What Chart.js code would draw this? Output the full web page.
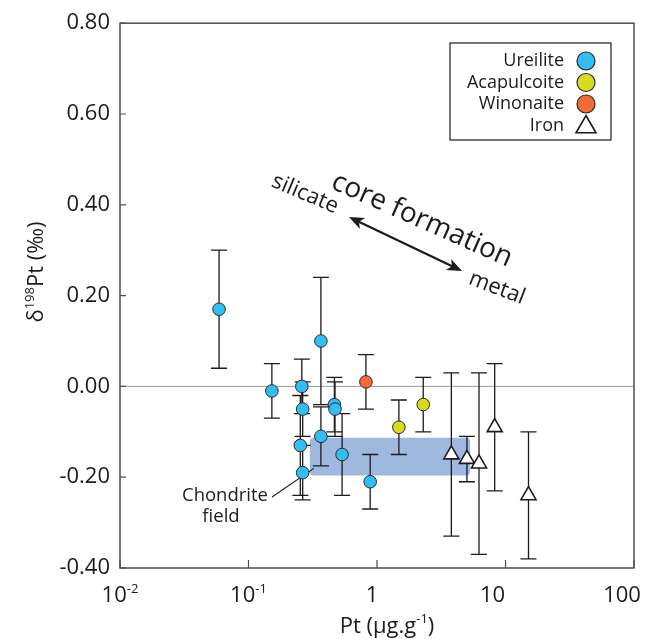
<!DOCTYPE html>
<html><head><meta charset="utf-8">
<script src="https://cdn.jsdelivr.net/npm/chart.js@4/dist/chart.umd.min.js"></script>
<style>html,body{margin:0;padding:0;background:#fff;}canvas{display:block;}</style>
</head><body>
<canvas id="c" width="646" height="639"></canvas>
<script>
// ---- data ----
const ureiliteX   = [0.059, 0.152, 0.26, 0.264, 0.253, 0.264, 0.366, 0.366, 0.466, 0.471, 0.535, 0.885];
const ureiliteY   = [0.17, -0.01, 0.00, -0.05, -0.13, -0.19, 0.10, -0.11, -0.04, -0.05, -0.15, -0.21];
const ureiliteErr = [0.13, 0.06, 0.06, 0.06, 0.11, 0.06, 0.14, 0.065, 0.06, 0.06, 0.09, 0.06];
const acapulcoiteX   = [1.48, 2.29];
const acapulcoiteY   = [-0.09, -0.04];
const acapulcoiteErr = [0.06, 0.06];
const winonaiteX   = [0.82];
const winonaiteY   = [0.01];
const winonaiteErr = [0.06];
const ironX   = [3.79, 5.01, 6.22, 8.24, 15.1];
const ironY   = [-0.15, -0.16, -0.17, -0.09, -0.24];
const ironErr = [0.18, 0.05, 0.20, 0.14, 0.14];
const chondriteFieldX = [0.30, 5.3];
const chondriteFieldY = [-0.113, -0.196];
const xTickValues = [0.01, 0.1, 1, 10, 100];
const xTickBase   = ['10', '10', '1', '10', '100'];
const xTickExp    = ['-2', '-1', '', '', ''];
const legendLabels = ['Ureilite', 'Acapulcoite', 'Winonaite', 'Iron'];

const FONT = "'Open Sans', 'Noto Sans', sans-serif";
const INK = '#1e1a1b';
const colUre = '#34bdf0', colAca = '#d8dc1e', colWin = '#f26a35';

function pts(xs, ys){ return xs.map((x,i)=>({x:x, y:ys[i]})); }

const framePlugin = {
  id: 'frame',
  beforeDatasetsDraw(chart){
    const {ctx, chartArea:a, scales:{x, y}} = chart;
    ctx.save();
    // zero line
    const y0 = y.getPixelForValue(0);
    ctx.strokeStyle = '#9a9a9a'; ctx.lineWidth = 1;
    ctx.beginPath(); ctx.moveTo(a.left, y0); ctx.lineTo(a.right, y0); ctx.stroke();
    // chondrite field
    const fx1 = x.getPixelForValue(chondriteFieldX[0]), fx2 = x.getPixelForValue(chondriteFieldX[1]);
    const fy1 = y.getPixelForValue(chondriteFieldY[0]), fy2 = y.getPixelForValue(chondriteFieldY[1]);
    ctx.fillStyle = '#9fb8de';
    ctx.beginPath(); ctx.roundRect(fx1, fy1, fx2-fx1, fy2-fy1, 4); ctx.fill();
    // leader line + label
    ctx.strokeStyle = INK; ctx.lineWidth = 1.1;
    ctx.beginPath(); ctx.moveTo(272, 497); ctx.lineTo(fx1+4, fy2-7); ctx.stroke();
    ctx.fillStyle = INK; ctx.font = '18.5px ' + FONT; ctx.textBaseline = 'middle';
    ctx.textAlign = 'right'; ctx.fillText('Chondrite', 268, 496);
    ctx.textAlign = 'center'; ctx.fillText('field', 221, 517);
    // error bars
    ctx.strokeStyle = INK; ctx.lineWidth = 1.3;
    chart.data.datasets.forEach(ds => {
      if (!ds.err) return;
      ds.data.forEach((p, i) => {
        const px = x.getPixelForValue(p.x);
        const pt = y.getPixelForValue(p.y + ds.err[i]);
        const pb = y.getPixelForValue(p.y - ds.err[i]);
        ctx.beginPath();
        ctx.moveTo(px, pt); ctx.lineTo(px, pb);
        ctx.moveTo(px-8, pt); ctx.lineTo(px+8, pt);
        ctx.moveTo(px-8, pb); ctx.lineTo(px+8, pb);
        ctx.stroke();
      });
    });
    // frame
    ctx.strokeStyle = '#4d4d4d'; ctx.lineWidth = 1.5;
    ctx.strokeRect(a.left, a.top, a.right-a.left, a.bottom-a.top);
    // inward ticks
    ctx.lineWidth = 1.2;
    ctx.beginPath();
    y.ticks.forEach(t => {
      const py = y.getPixelForValue(t.value);
      ctx.moveTo(a.left, py); ctx.lineTo(a.left+6, py);
    });
    xTickValues.forEach(v => {
      const px = x.getPixelForValue(v);
      ctx.moveTo(px, a.bottom); ctx.lineTo(px, a.bottom-8);
    });
    ctx.stroke();
    ctx.restore();
  },
  afterDraw(chart){
    const {ctx, chartArea:a, scales:{x, y}} = chart;
    ctx.save();
    ctx.fillStyle = INK;
    // x tick labels with superscripts
    const shift = [0, 0, -5, -13, -12];
    xTickValues.forEach((v, i) => {
      const px = x.getPixelForValue(v) + shift[i];
      ctx.font = '22px ' + FONT;
      const wb = ctx.measureText(xTickBase[i]).width;
      ctx.font = '13px ' + FONT;
      const we = xTickExp[i] ? ctx.measureText(xTickExp[i]).width : 0;
      const x0 = px - (wb + we)/2;
      ctx.textAlign = 'left'; ctx.textBaseline = 'alphabetic';
      ctx.font = '22px ' + FONT; ctx.fillText(xTickBase[i], x0, 602);
      if (xTickExp[i]) { ctx.font = '13px ' + FONT; ctx.fillText(xTickExp[i], x0 + wb, 593); }
    });
    // x title
    {
      const p1 = 'Pt (µg.g', sup = '-1', p2 = ')';
      ctx.font = '22px ' + FONT; const w1 = ctx.measureText(p1).width, w3 = ctx.measureText(p2).width;
      ctx.font = '13px ' + FONT; const w2 = ctx.measureText(sup).width;
      const x0 = 387 - (w1+w2+w3)/2;
      ctx.font = '22px ' + FONT; ctx.fillText(p1, x0, 633); ctx.fillText(p2, x0+w1+w2, 633);
      ctx.font = '13px ' + FONT; ctx.fillText(sup, x0+w1, 623);
    }
    // y title
    {
      ctx.save(); ctx.translate(43, 272); ctx.rotate(-Math.PI/2);
      const p1 = 'δ', sup = '198', p2 = 'Pt (‰)';
      ctx.font = '22px ' + FONT; const w1 = ctx.measureText(p1).width, w3 = ctx.measureText(p2).width;
      ctx.font = '13px ' + FONT; const w2 = ctx.measureText(sup).width;
      const x0 = -(w1+w2+w3)/2;
      ctx.font = '22px ' + FONT; ctx.fillText(p1, x0, 0); ctx.fillText(p2, x0+w1+w2, 0);
      ctx.font = '13px ' + FONT; ctx.fillText(sup, x0+w1, -9);
      ctx.restore();
    }
    // legend
    ctx.strokeStyle = INK; ctx.lineWidth = 1.2;
    ctx.strokeRect(450, 43, 161, 97);
    const rows = [61, 82.5, 104, 126];
    const cols = [colUre, colAca, colWin, null];
    ctx.font = '18px ' + FONT; ctx.textAlign = 'right'; ctx.textBaseline = 'middle';
    legendLabels.forEach((lab, i) => {
      ctx.fillStyle = INK; ctx.fillText(lab, 564, rows[i]);
      if (cols[i]) {
        ctx.beginPath(); ctx.arc(586, rows[i], 9, 0, Math.PI*2);
        ctx.fillStyle = cols[i]; ctx.fill(); ctx.lineWidth = 1.2; ctx.strokeStyle = '#2a2a2a'; ctx.stroke();
      } else {
        const r = 11.5, cy = rows[i] + 1;
        ctx.beginPath();
        ctx.moveTo(586, cy - r); ctx.lineTo(586 + r*0.866, cy + r*0.5); ctx.lineTo(586 - r*0.866, cy + r*0.5); ctx.closePath();
        ctx.fillStyle = '#fff'; ctx.fill(); ctx.lineWidth = 1.6; ctx.strokeStyle = INK; ctx.stroke();
      }
    });
    // core formation annotation
    ctx.fillStyle = INK; ctx.textAlign = 'center'; ctx.textBaseline = 'middle';
    const rotText = (t, cx, cy, ang, size) => {
      ctx.save(); ctx.translate(cx, cy); ctx.rotate(ang*Math.PI/180);
      ctx.font = size + 'px ' + FONT; ctx.fillText(t, 0, 0); ctx.restore();
    };
    rotText('core formation', 422, 220, 24, 28);
    rotText('silicate', 305, 194, 23, 22);
    rotText('metal', 497, 288, 21, 22);
    // double arrow
    const ax1 = 349, ay1 = 217, ax2 = 462, ay2 = 271;
    const ang = Math.atan2(ay2-ay1, ax2-ax1);
    ctx.strokeStyle = INK; ctx.lineWidth = 2.2;
    ctx.beginPath(); ctx.moveTo(ax1 + 8*Math.cos(ang), ay1 + 8*Math.sin(ang));
    ctx.lineTo(ax2 - 8*Math.cos(ang), ay2 - 8*Math.sin(ang)); ctx.stroke();
    const head = (hx, hy, a) => {
      ctx.save(); ctx.translate(hx, hy); ctx.rotate(a);
      ctx.beginPath(); ctx.moveTo(0,0); ctx.lineTo(-15, -6); ctx.lineTo(-11, 0); ctx.lineTo(-15, 6); ctx.closePath();
      ctx.fill(); ctx.restore();
    };
    head(ax2, ay2, ang); head(ax1, ay1, ang + Math.PI);
    ctx.restore();
  }
};

new Chart(document.getElementById('c'), {
  type: 'scatter',
  data: { datasets: [
    { label: 'Ureilite', data: pts(ureiliteX, ureiliteY), err: ureiliteErr,
      backgroundColor: colUre, borderColor: '#2a2a2a', borderWidth: 1, pointRadius: 6.3, pointStyle: 'circle' },
    { label: 'Acapulcoite', data: pts(acapulcoiteX, acapulcoiteY), err: acapulcoiteErr,
      backgroundColor: colAca, borderColor: '#2a2a2a', borderWidth: 1, pointRadius: 6.3, pointStyle: 'circle' },
    { label: 'Winonaite', data: pts(winonaiteX, winonaiteY), err: winonaiteErr,
      backgroundColor: colWin, borderColor: '#2a2a2a', borderWidth: 1, pointRadius: 6.3, pointStyle: 'circle' },
    { label: 'Iron', data: pts(ironX, ironY), err: ironErr,
      backgroundColor: '#ffffff', borderColor: INK, borderWidth: 1.6, pointRadius: 8.7, pointStyle: 'triangle' }
  ]},
  options: {
    responsive: false, animation: false,
    layout: { padding: { left: 0, right: 12, top: 18, bottom: 0 } },
    plugins: { legend: { display: false }, tooltip: { enabled: false } },
    scales: {
      x: { type: 'logarithmic', min: 0.01, max: 100,
           grid: { display: false, drawTicks: false }, border: { display: false },
           ticks: { display: false }, afterFit(s){ s.height = 71; } },
      y: { type: 'linear', min: -0.4, max: 0.8,
           grid: { display: false, drawTicks: false }, border: { display: false },
           ticks: { stepSize: 0.2, padding: 10, color: INK, font: { family: FONT, size: 22 },
                    callback: v => (Math.abs(v) < 1e-9 ? 0 : v).toFixed(2) },
           afterFit(s){ s.width = 120; } }
    }
  },
  plugins: [framePlugin]
});
</script>
</body></html>
